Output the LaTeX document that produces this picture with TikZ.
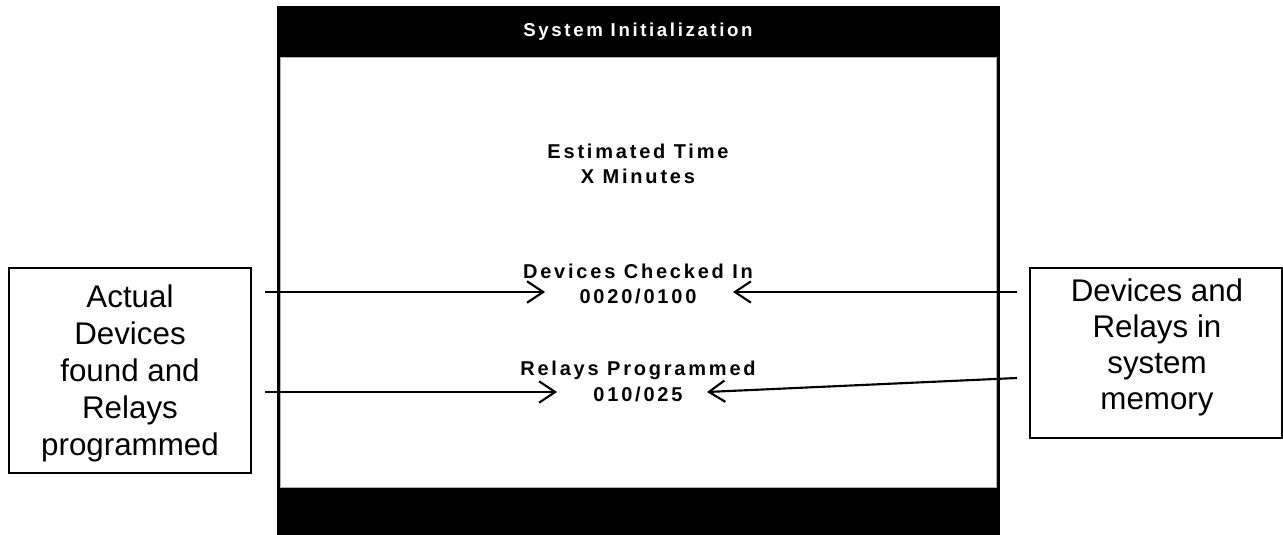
\documentclass[tikz,border=0pt]{standalone}
\usepackage{fontspec}
\setmainfont{Liberation Sans}
\newfontfamily\scrfont[LetterSpace=14]{Liberation Sans}
\usetikzlibrary{arrows.meta}
\tikzset{
  px/.style={x=0.75pt,y=-0.75pt},
  sidebox/.style={draw,line width=1.5pt,inner sep=0pt},
  boxtext/.style={align=center,inner sep=0pt},
  scrtext/.style={align=center,font=\scrfont\bfseries\fontsize{15}{19}\selectfont,inner sep=0pt},
  arr/.style={line width=1.6pt,-{Straight Barb[length=12pt,width=16pt,line width=1.6pt]}}
}
\begin{document}
\begin{tikzpicture}[px]
\useasboundingbox (0,0) rectangle (1283,535);
% screen
\fill[black] (277,6) rectangle (1000,535);
\fill[white] (280,57) rectangle (996,487);
\draw[gray!60,line width=0.5pt] (280,57) rectangle (996,487);
\node[scrtext,text=white,font=\scrfont\bfseries\fontsize{14}{18}\selectfont] (title) at (638,32) {System Initialization};
\node[scrtext] (est) at (638,164) {Estimated Time\\X Minutes};
\node[scrtext] (dev) at (638,284) {Devices Checked In\\0020/0100};
\node[scrtext] (rel) at (638,381.5) {Relays Programmed\\010/025};
% side boxes
\node[sidebox,minimum width=242*0.75pt,minimum height=205*0.75pt] (L) at (130,370.5) {};
\node[boxtext,font=\fontsize{23.5}{27.75}\selectfont] (Lt) at (130,373) {Actual\\Devices\\found and\\Relays\\programmed};
\node[sidebox,minimum width=252*0.75pt,minimum height=170*0.75pt] (R) at (1155.5,353) {};
\node[boxtext,font=\fontsize{23.5}{27}\selectfont] (Rt) at (1157,347) {Devices and\\Relays in\\system\\memory};
% connector ends
\coordinate (la) at (265,292);
\coordinate (lat) at (545,292);
\coordinate (lb) at (265,392);
\coordinate (lbt) at (557,392);
\coordinate (ra) at (1017,292);
\coordinate (rat) at (733,292);
\coordinate (rb) at (1017,378);
\coordinate (rbt) at (707,392);
\draw[arr] (la) -- (lat);
\draw[arr] (lb) -- (lbt);
\draw[arr] (ra) -- (rat);
\draw[arr] (rb) -- (rbt);
\end{tikzpicture}
\end{document}
